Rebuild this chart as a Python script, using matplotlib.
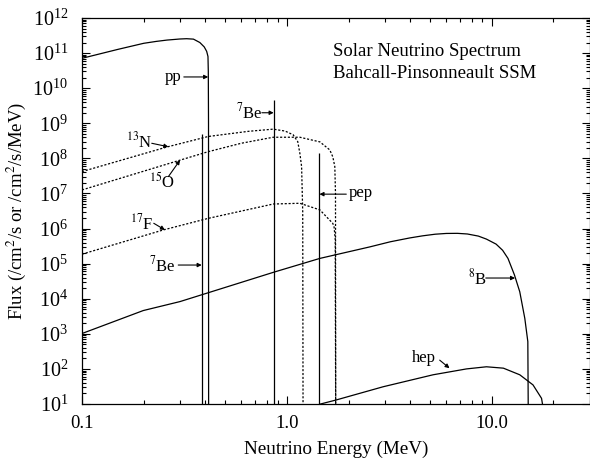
import matplotlib
matplotlib.use("Agg")
import matplotlib.pyplot as plt
from matplotlib.ticker import LogLocator, NullFormatter, FixedLocator, FixedFormatter
import numpy as np

plt.rcParams["font.family"] = ["Liberation Serif", "DejaVu Serif"]
plt.rcParams["mathtext.fontset"] = "stix"

# continuum spectra (MeV, /cm^2/s/MeV)
pp_E = [0.1, 0.15, 0.2, 0.23, 0.26, 0.3, 0.324, 0.35, 0.376, 0.395, 0.406, 0.412, 0.4135, 0.4145, 0.415]
pp_F = [7.1e10, 1.28e11, 1.9e11, 2.15e11, 2.35e11, 2.52e11, 2.57e11, 2.5e11, 2.0e11, 1.5e11, 1.12e11, 8e10, 3e10, 1e9, 1.0]

n13_E = [0.1, 0.259, 0.413, 0.65, 0.858, 0.98, 1.073, 1.13, 1.157, 1.18, 1.195, 1.2]
n13_F = [4.2e7, 2.1e8, 4.2e8, 5.9e8, 6.8e8, 6.0e8, 4.7e8, 3.0e8, 1.4e8, 5.8e7, 3e6, 1.0]

o15_E = [0.1, 0.301, 0.413, 0.6, 0.858, 1.157, 1.449, 1.62, 1.676, 1.714, 1.727, 1.732]
o15_F = [1.26e7, 8.9e7, 1.55e8, 2.7e8, 4.0e8, 4.0e8, 2.95e8, 1.74e8, 1.1e8, 5.8e7, 1e7, 1.0]

f17_E = [0.1, 0.249, 0.413, 0.858, 1.157, 1.449, 1.676, 1.70, 1.722, 1.732]
f17_F = [1.86e5, 9.1e5, 1.95e6, 5.0e6, 5.25e6, 3.4e6, 1.4e6, 1.1e6, 5e5, 1.0]

b8_E = [0.1, 0.199, 0.301, 0.413, 0.867, 1.449, 2.54, 3.2, 3.98, 4.6, 5.3, 6.0, 6.8, 7.6, 8.6, 9.42,
        10.5, 11.3, 12.0, 12.9, 13.7, 14.5, 15.0, 15.1]
b8_F = [1.02e3, 4.6e3, 8.3e3, 1.48e4, 5.75e4, 1.41e5, 3.0e5, 4.2e5, 5.4e5, 6.2e5, 6.9e5, 7.25e5,
        7.3e5, 7.0e5, 6.1e5, 5.0e5, 3.6e5, 2.4e5, 1.41e5, 4.8e4, 1.58e4, 2.75e3, 6.0e2, 1.0]

hep_E = [1.46, 1.73, 2.95, 5.17, 7.53, 9.42, 11.4, 13.7, 15.9, 17.5, 18.3]
hep_F = [10, 12.9, 31, 68, 100, 115, 105, 68, 35, 14.5, 3]

# line sources (MeV, /cm^2/s)
line_E = [0.384, 0.862, 1.442]
line_F = [5.0e8, 4.5e9, 1.45e8]

fig = plt.figure(figsize=(5.9, 4.61), dpi=100)
ax = fig.add_axes([82 / 590, 1 - 404 / 461, 507.5 / 590, 386 / 461])

lw = 0.9
for E, F in [(pp_E, pp_F), (b8_E, b8_F), (hep_E, hep_F)]:
    ax.plot(E, F, color="black", lw=lw)
for E, F in [(n13_E, n13_F), (o15_E, o15_F), (f17_E, f17_F)]:
    ax.plot(E, F, color="black", lw=lw, linestyle=(0, (1.7, 1.4)))
ax.vlines(line_E, 1.0, line_F, color="black", lw=lw)

ax.set_xscale("log")
ax.set_yscale("log")
ax.set_xlim(0.1, 30)
ax.set_ylim(10, 1e12)

# labels with arrows: (text, text pos, arrow tail, arrow tip)
labels = [
    ("pp", (0.278, 10**10.32), (0.314, 10**10.32), (0.413, 10**10.32)),
    ("$^{7}$Be", (0.655, 10**9.32), (0.755, 10**9.30), (0.862, 10**9.30)),
    ("pep", (2.3, 10**7.01), (1.95, 10**6.98), (1.442, 10**6.98)),
    ("$^{13}$N", (0.19, 10**8.47), (0.219, 10**8.43), (0.264, 10**8.33)),
    ("$^{15}$O", (0.245, 10**7.33), (0.264, 10**7.48), (0.301, 10**7.95)),
    ("$^{17}$F", (0.196, 10**6.16), (0.224, 10**6.15), (0.254, 10**5.96)),
    ("$^{7}$Be", (0.248, 10**4.96), (0.295, 10**4.96), (0.384, 10**4.96)),
    ("$^{8}$B", (8.5, 10**4.59), (9.35, 10**4.59), (13.0, 10**4.59)),
    ("hep", (4.66, 10**2.31), (5.57, 10**2.25), (6.22, 10**2.02)),
]
for txt, tpos, tail, tip in labels:
    ax.text(tpos[0], tpos[1], txt, ha="center", va="center", fontsize=12)
    ax.annotate("", xy=tip, xytext=tail,
                arrowprops=dict(arrowstyle="-|>", lw=0.8, color="black",
                                mutation_scale=6, shrinkA=0, shrinkB=0))

ax.text(0.495, 0.913, "Solar Neutrino Spectrum", transform=ax.transAxes,
        ha="left", va="center", fontsize=13.5)
ax.text(0.495, 0.857, "Bahcall-Pinsonneault SSM", transform=ax.transAxes,
        ha="left", va="center", fontsize=13.5)

ax.xaxis.set_major_locator(FixedLocator([0.1, 1.0, 10.0]))
ax.xaxis.set_major_formatter(FixedFormatter(["0.1", "1.0", "10.0"]))
ax.xaxis.set_minor_locator(LogLocator(base=10, subs=np.arange(2, 10), numticks=50))
ax.xaxis.set_minor_formatter(NullFormatter())
ax.yaxis.set_major_locator(LogLocator(base=10, numticks=30))
ax.yaxis.set_minor_locator(LogLocator(base=10, subs=np.arange(2, 10), numticks=200))
ax.yaxis.set_minor_formatter(NullFormatter())

ax.tick_params(which="both", direction="in", top=True, right=True, width=0.8)
ax.tick_params(which="major", length=6, pad=8)
ax.tick_params(axis="x", which="major", labelsize=13.5)
ax.tick_params(axis="y", which="major", labelsize=14.5, pad=10)
ax.tick_params(which="minor", length=3)
for s in ax.spines.values():
    s.set_linewidth(0.9)

ax.set_xlabel("Neutrino Energy (MeV)", fontsize=13.8, labelpad=6)
ax.set_ylabel("Flux (/cm$^2$/s or /cm$^2$/s/MeV)", fontsize=13.5, labelpad=3)

fig.savefig("out.png", dpi=100)
